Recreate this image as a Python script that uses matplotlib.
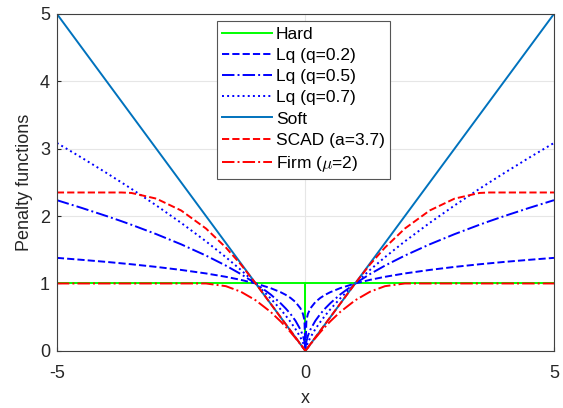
import numpy as np
import matplotlib
matplotlib.use("Agg")
import matplotlib.pyplot as plt

plt.rcParams["font.family"] = ["Liberation Sans", "DejaVu Sans"]
plt.rcParams["mathtext.fontset"] = "cm"
plt.rcParams["axes.unicode_minus"] = False

# sampled values for x >= 0 (curves are symmetric about x = 0)
x_half = [0, 0.02, 0.05, 0.1, 0.2, 0.3, 0.4, 0.5, 0.7, 1.0, 1.3, 1.6, 2.0,
          2.5, 3.0, 3.5, 3.7, 4.0, 4.5, 5.0]
lq02 = [0, 0.457, 0.549, 0.631, 0.725, 0.786, 0.833, 0.871, 0.931, 1.0, 1.054,
        1.099, 1.149, 1.201, 1.246, 1.285, 1.299, 1.320, 1.351, 1.380]
lq05 = [0, 0.141, 0.224, 0.316, 0.447, 0.548, 0.632, 0.707, 0.837, 1.0, 1.140,
        1.265, 1.414, 1.581, 1.732, 1.871, 1.924, 2.0, 2.121, 2.236]
lq07 = [0, 0.065, 0.123, 0.200, 0.324, 0.430, 0.527, 0.616, 0.779, 1.0, 1.202,
        1.390, 1.625, 1.899, 2.158, 2.404, 2.499, 2.639, 2.866, 3.085]
soft = [0, 0.02, 0.05, 0.1, 0.2, 0.3, 0.4, 0.5, 0.7, 1.0, 1.3, 1.6, 2.0,
        2.5, 3.0, 3.5, 3.7, 4.0, 4.5, 5.0]
scad = [0, 0.02, 0.05, 0.1, 0.2, 0.3, 0.4, 0.5, 0.7, 1.0, 1.283, 1.533, 1.815,
        2.083, 2.259, 2.343, 2.350, 2.350, 2.350, 2.350]
firm = [0, 0.020, 0.049, 0.098, 0.190, 0.278, 0.360, 0.438, 0.578, 0.750, 0.878,
        0.960, 1.0, 1.0, 1.0, 1.0, 1.0, 1.0, 1.0, 1.0]
hard_x = [-5, 0, 0, 0, 5]
hard_y = [1, 1, 0, 1, 1]


def mirror(xs, ys):
    xs = np.asarray(xs, dtype=float)
    ys = np.asarray(ys, dtype=float)
    return (np.concatenate([-xs[::-1], xs[1:]]),
            np.concatenate([ys[::-1], ys[1:]]))


fig = plt.figure(figsize=(5.63, 4.08), dpi=100)
ax = fig.add_axes([0.101, 0.140, 0.883, 0.826])

lw = 1.4
ax.plot(hard_x, hard_y, color=(0, 1, 0), lw=lw, label="Hard")
ax.plot(*mirror(x_half, lq02), color="blue", ls="--", lw=lw, label="Lq (q=0.2)")
ax.plot(*mirror(x_half, lq05), color="blue", ls="-.", lw=lw, label="Lq (q=0.5)")
ax.plot(*mirror(x_half, lq07), color="blue", ls=":", lw=lw, label="Lq (q=0.7)")
ax.plot(*mirror(x_half, soft), color="#0072BD", ls="-", lw=lw, label="Soft")
ax.plot(*mirror(x_half, scad), color="red", ls="--", lw=lw, label="SCAD (a=3.7)")
ax.plot(*mirror(x_half, firm), color="red", ls="-.", lw=lw, label=r"Firm ($\mu$=2)")

ax.set_xlim(-5, 5)
ax.set_ylim(0, 5)
ax.set_xticks([-5, 0, 5])
ax.set_yticks([0, 1, 2, 3, 4, 5])
ax.grid(True, color="#e6e6e6", lw=0.8)
ax.set_axisbelow(True)
for s in ax.spines.values():
    s.set_color("#404040")
    s.set_linewidth(0.8)
ax.tick_params(direction="in", length=3, labelsize=13, colors="#262626")
ax.tick_params(axis="x", pad=10)
ax.tick_params(axis="y", pad=5)
ax.set_xlabel("x", fontsize=13, color="#262626", labelpad=6)
ax.set_ylabel("Penalty functions", fontsize=13, color="#262626", labelpad=5)

leg = ax.legend(loc="upper left", bbox_to_anchor=(0.322, 0.978), fontsize=12.5,
                handlelength=2.9, handletextpad=0.2, labelspacing=0.35,
                borderpad=0.3, fancybox=False, framealpha=1, borderaxespad=0)
leg.get_frame().set_edgecolor("#555555")
leg.get_frame().set_linewidth(0.8)

fig.savefig("out.png", dpi=100)
